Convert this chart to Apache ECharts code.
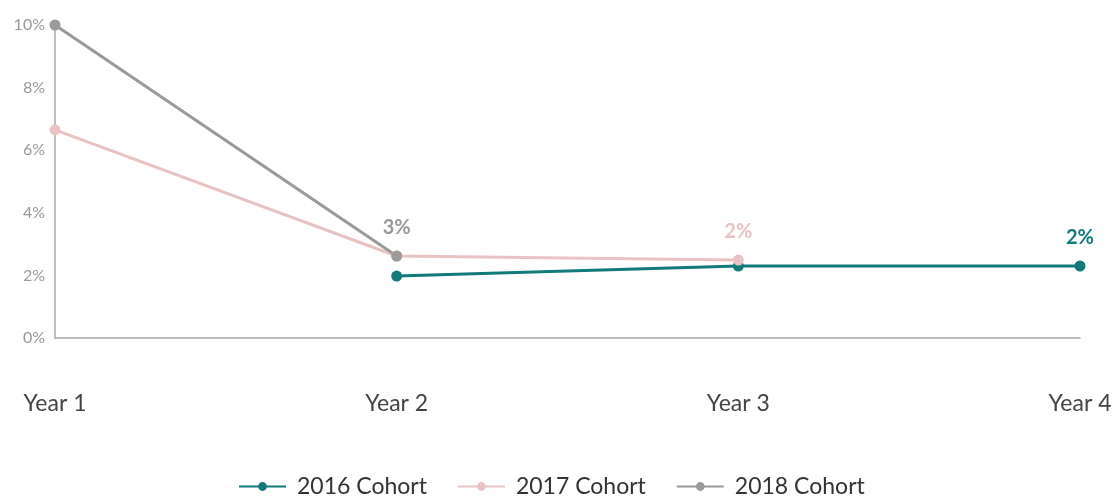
<!DOCTYPE html>
<html><head><meta charset="utf-8">
<script src="https://cdn.jsdelivr.net/npm/echarts@6/dist/echarts.min.js"></script>
<style>html,body{margin:0;padding:0;background:#fff}#c{width:1118px;height:496px}</style>
</head><body><div id="c"></div>
<script>
const categories = ['Year 1','Year 2','Year 3','Year 4'];
const yTicks = [0,2,4,6,8,10];
const cohort2016 = [null, 1.98, 2.3, 2.3];
const cohort2017 = [6.65, 2.62, 2.49, null];
const cohort2018 = [10, 2.62, null, null];
const seriesNames = ['2016 Cohort','2017 Cohort','2018 Cohort'];
const colors = ['#137a7b','#e9c3c3','#9a9a9a'];

function lastIndex(arr){ let k=-1; arr.forEach((v,i)=>{ if(v!=null) k=i; }); return k; }
function mk(name, data, color){
  const li = lastIndex(data);
  return {
    name, type:'line', data, color,
    symbol:'circle', symbolSize:11, connectNulls:false,
    lineStyle:{width:3, color},
    itemStyle:{color},
    label:{show:true, position:'top', distance:13, color, fontSize:20, fontWeight:'bold', fontFamily:'Lato',
      formatter:p=> p.dataIndex===li ? Math.round(p.value)+'%' : ''},
    emphasis:{disabled:true}
  };
}
const chart = echarts.init(document.getElementById('c'));
chart.setOption({
  animation:false,
  grid:{left:55, right:38, top:25, bottom:158},
  legend:{top:470, left:233, itemWidth:47, itemHeight:11, itemGap:30,
    textStyle:{fontSize:23, color:'#333', fontFamily:'Lato', padding:[0,0,0,6]}, data:seriesNames},
  xAxis:{type:'category', data:categories, boundaryGap:false,
    axisLine:{lineStyle:{color:'#aaa', width:1.5}}, axisTick:{show:false},
    axisLabel:{margin:54, fontSize:23, color:'#444', fontFamily:'Lato', interval:0, align:'center'}},
  yAxis:{type:'value', min:0, max:10, interval:2,
    axisLine:{show:true, lineStyle:{color:'#aaa', width:1.5}}, axisTick:{show:false},
    splitLine:{show:false},
    axisLabel:{fontSize:16, color:'#999', fontFamily:'Lato', margin:10,
      formatter:v=> yTicks.includes(v) ? v+'%' : ''}},
  series:[mk(seriesNames[0],cohort2016,colors[0]), mk(seriesNames[1],cohort2017,colors[1]), mk(seriesNames[2],cohort2018,colors[2])]
});
</script></body></html>
